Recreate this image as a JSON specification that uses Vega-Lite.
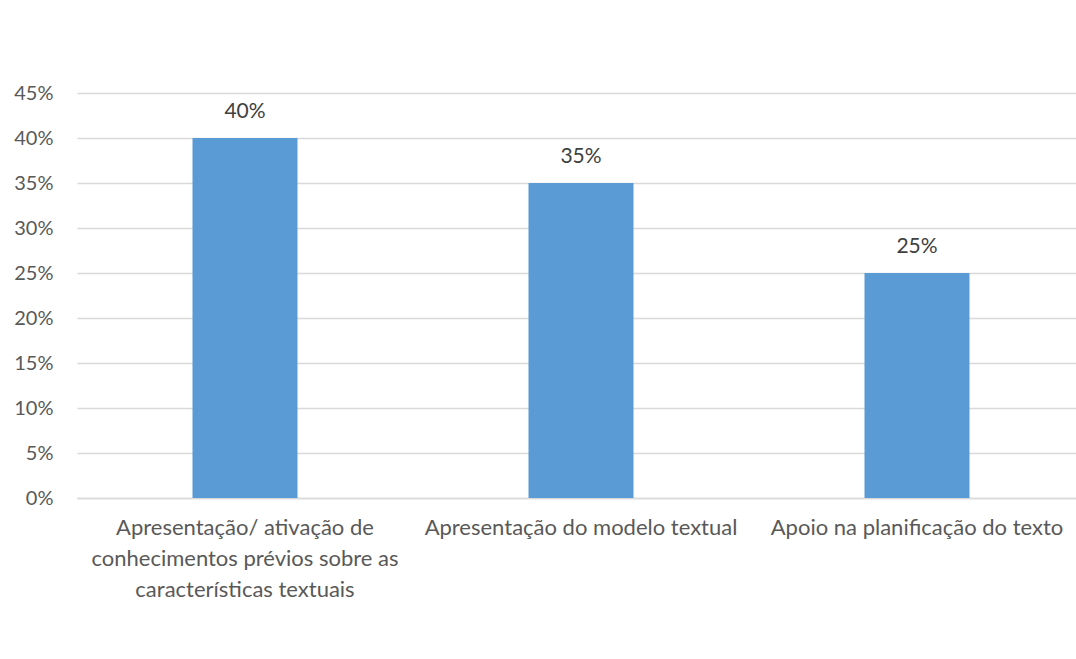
{
  "$schema": "https://vega.github.io/schema/vega-lite/v6.json",
  "width": 1008,
  "height": 405,
  "padding": {"left": 77, "top": 93, "right": 0, "bottom": 161},
  "autosize": {"type": "none"},
  "background": "white",
  "config": {
    "view": {"stroke": null},
    "font": "Lato"
  },
  "data": {
    "values": [
      {"categoria": "Apresentação/ ativação de conhecimentos prévios sobre as características textuais", "valor": 0.40},
      {"categoria": "Apresentação do modelo textual", "valor": 0.35},
      {"categoria": "Apoio na planificação do texto", "valor": 0.25}
    ]
  },
  "encoding": {
    "x": {
      "field": "categoria",
      "type": "nominal",
      "sort": null,
      "scale": {"paddingInner": 0.6875, "paddingOuter": 0.34375},
      "axis": {
        "title": null,
        "labelAngle": 0,
        "labelFontSize": 22,
        "labelColor": "#595959",
        "labelLineHeight": 31,
        "labelPadding": 19,
        "labelLimit": 0,
        "ticks": false,
        "domain": true,
        "domainColor": "#D9D9D9",
        "domainWidth": 1.5,
        "labelExpr": "datum.label == 'Apresentação/ ativação de conhecimentos prévios sobre as características textuais' ? ['Apresentação/ ativação de', 'conhecimentos prévios sobre as', 'características textuais'] : datum.label"
      }
    },
    "y": {
      "field": "valor",
      "type": "quantitative",
      "scale": {"domain": [0, 0.45]},
      "axis": {
        "title": null,
        "format": ".0%",
        "values": [0, 0.05, 0.1, 0.15, 0.2, 0.25, 0.3, 0.35, 0.4, 0.45],
        "labelFontSize": 20,
        "labelColor": "#595959",
        "labelPadding": 24,
        "ticks": false,
        "domain": false,
        "gridColor": "#D9D9D9",
        "gridWidth": 1.5
      }
    }
  },
  "layer": [
    {"mark": {"type": "bar", "color": "#5B9BD5"}},
    {
      "mark": {"type": "text", "baseline": "middle", "dy": -26, "fontSize": 21, "color": "#404040"},
      "encoding": {"text": {"field": "valor", "type": "quantitative", "format": ".0%"}}
    }
  ]
}
